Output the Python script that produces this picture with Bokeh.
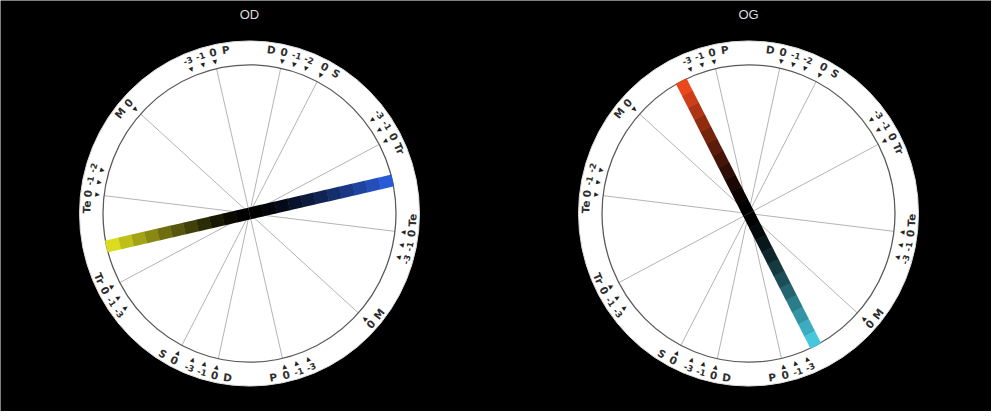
import numpy as np
from bokeh.plotting import figure
from bokeh.models import Range1d, ColumnDataSource
from bokeh.embed import file_html
from bokeh.resources import INLINE
from bokeh.core.properties import value

# ---------------- data ----------------
eyes = ["OD", "OG"]
spoke_names = ["P", "D", "S", "Tr", "Te", "M"]
spoke_angles = [103.0, 77.7, 62.5, 27.7, 173.1, 138.0]   # upper end, deg CCW from east

# label sequences: upper end read clockwise, lower end read counter-clockwise
upper_labels = [["-3", "-1", "0", "P"],
                ["D", "0", "-1", "-2"],
                ["0", "S"],
                ["-3", "-1", "0", "Tr"],
                ["Te", "0", "-1", "-2"],
                ["M", "0"]]
lower_labels = [["P", "0", "-1", "-3"],
                ["-3", "-1", "0", "D"],
                ["S", "0"],
                ["Tr", "0", "-1", "-3"],
                ["-3", "-1", "0", "Te"],
                ["0", "M"]]

bar_angles = [12.8, 117.3]                 # orientation of the deviation bar
bar_end_colors = ["#2a5bd7", "#ea481c"]    # colour at the bar-angle end
bar_opp_colors = ["#dcdc1e", "#45c8de"]    # colour at the opposite end

# ---------------- layout / style ----------------
W, H = 991, 411
centers = [(249.0, 198.0), (748.0, 198.0)]
KY = 1.015
R_IN, R_OUT, R_TXT, R_ARR = 146.5, 170.0, 163.0, 154.0
STEP = 4.6
NBLK = 11
BAR_W = 12

def pt(c, r, ang_deg):
    a = np.radians(ang_deg)
    return c[0] + r * np.cos(a), c[1] + r * KY * np.sin(a)

def hex2rgb(h):
    h = h.lstrip("#")
    return np.array([int(h[i:i + 2], 16) for i in (0, 2, 4)], dtype=float)

def rgb2hex(c):
    c = np.clip(np.round(c), 0, 255).astype(int)
    return "#%02x%02x%02x" % tuple(c)

p = figure(width=W, height=H, x_range=Range1d(0, W), y_range=Range1d(0, H),
           output_backend="svg", toolbar_location=None, min_border=0)
p.axis.visible = False
p.grid.visible = False
p.outline_line_color = None
p.background_fill_color = "black"
p.border_fill_color = "black"

for e, c in enumerate(centers):
    # outer white disk
    p.ellipse(x=[c[0]], y=[c[1]], width=[2 * R_OUT], height=[2 * R_OUT * KY],
              fill_color="white", line_color="#dddddd", line_width=1)
    # spokes (diameters)
    x0, y0, x1, y1 = [], [], [], []
    for a in spoke_angles:
        xa, ya = pt(c, R_IN, a)
        xb, yb = pt(c, R_IN, a + 180)
        x0.append(xa); y0.append(ya); x1.append(xb); y1.append(yb)
    p.segment(x0=x0, y0=y0, x1=x1, y1=y1, line_color="#b4b4b4", line_width=1)
    # inner circle
    p.ellipse(x=[c[0]], y=[c[1]], width=[2 * R_IN], height=[2 * R_IN * KY],
              fill_color=None, line_color="#5a5a5a", line_width=1.3)

    # deviation bar built of colour blocks
    bx0, by0, bx1, by1, bcol = [], [], [], [], []
    for ang, col in ((bar_angles[e], bar_end_colors[e]),
                     (bar_angles[e] + 180, bar_opp_colors[e])):
        rgb = hex2rgb(col)
        for k in range(NBLK):
            r0 = R_IN * k / NBLK
            r1 = R_IN * (k + 1) / NBLK + 0.4
            xa, ya = pt(c, r0, ang)
            xb, yb = pt(c, r1, ang)
            t = k / (NBLK - 1)
            bx0.append(xa); by0.append(ya); bx1.append(xb); by1.append(yb)
            bcol.append(rgb2hex(rgb * t ** 1.35))
    p.segment(x0=bx0, y0=by0, x1=bx1, y1=by1, line_color=bcol,
              line_width=BAR_W, line_cap="butt")

    # labels around the ring
    tx, ty, tt, ta, tsz = [], [], [], [], []
    ax_, ay_, at_, aa_ = [], [], [], []
    for s, a in enumerate(spoke_angles):
        for seq, base, sign, rot_off, arrow in (
                (upper_labels[s], a, -1, -90, "\u25bc"),
                (lower_labels[s], a + 180, 1, 90, "\u25b2")):
            z = seq.index("0")
            for i, lab in enumerate(seq):
                ang = base + sign * (i - z) * STEP
                x, y = pt(c, R_TXT, ang)
                tx.append(x); ty.append(y); tt.append(lab)
                ta.append(np.radians(ang + rot_off))
                tsz.append("8.5px" if lab.startswith("-") else "10.5px")
                if lab[0] in "-0":
                    xa, ya = pt(c, R_ARR, ang)
                    ax_.append(xa); ay_.append(ya); at_.append(arrow)
                    aa_.append(np.radians(ang + rot_off))
    src = ColumnDataSource(dict(x=tx, y=ty, t=tt, a=ta, s=tsz))
    p.text(x="x", y="y", text="t", angle="a", text_font_size="s", source=src,
           text_font=value("DejaVu Sans"), text_font_style="bold",
           text_color="#2e2e2e", text_align="center", text_baseline="middle")
    p.text(x=ax_, y=ay_, text=at_, angle=aa_, text_font_size="6px",
           text_font=value("DejaVu Sans"), text_color="#222222",
           text_align="center", text_baseline="middle")

    # eye title
    p.text(x=[c[0]], y=[397], text=[eyes[e]], text_font=value("Liberation Sans"),
           text_font_size="13px", text_color="#dddddd", text_align="center",
           text_baseline="middle")

open("out.html", "w").write(file_html(p, INLINE))
